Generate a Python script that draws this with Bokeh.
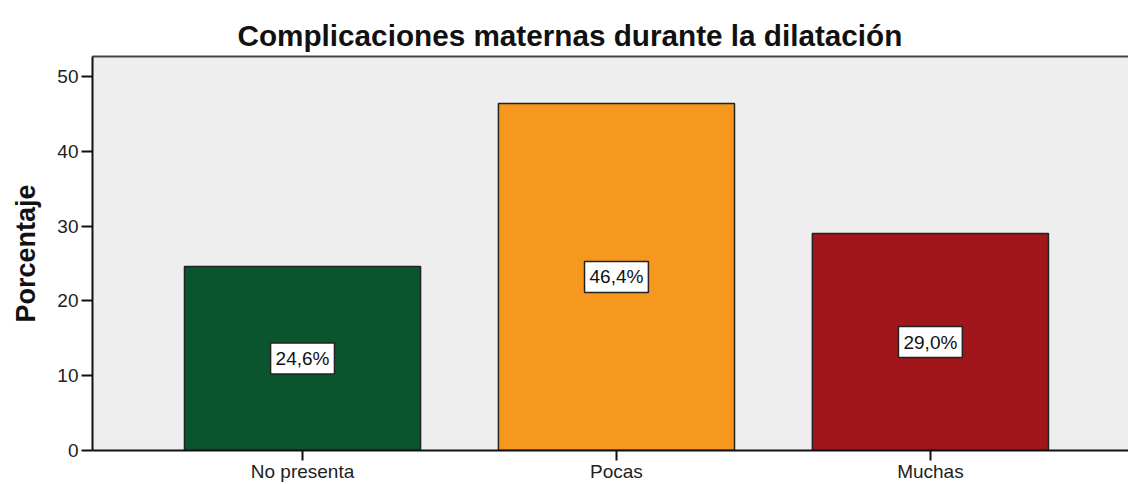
from bokeh.plotting import figure
from bokeh.models import (ColumnDataSource, Range1d, FixedTicker, LinearAxis,
                          Label, Title)
from bokeh.embed import file_html
from bokeh.resources import INLINE

categories = ["No presenta", "Pocas", "Muchas"]
values = [24.6, 46.4, 29.0]
colors = ["#0B552E", "#F7981E", "#A1161A"]
y_ticks = [0, 10, 20, 30, 40, 50]

positions = list(range(len(categories)))
labels = [f"{v:.1f}".replace(".", ",") + "%" for v in values]
mids = [v / 2 for v in values]

src = ColumnDataSource(dict(x=positions, top=values, color=colors))

FONT = "Liberation Sans"

p = figure(width=1128, height=484, output_backend="svg", toolbar_location=None,
           x_range=Range1d(-0.669, 2.631), y_range=Range1d(0, 52.67),
           min_border_left=92, min_border_right=0, min_border_top=56,
           min_border_bottom=34)
p.title = Title(text="Complicaciones maternas durante la dilatación",
                text_font=FONT, text_font_size="29.7px", text_font_style="bold",
                text_color="#111111", align="left", offset=145, standoff=9)

p.background_fill_color = "#EEEEEE"
p.border_fill_color = "white"
p.outline_line_color = None
p.grid.grid_line_color = None

p.vbar(x="x", top="top", width=0.752, bottom=0, fill_color="color",
       line_color="#222222", line_width=1.5, source=src)

for xpos, ymid, txt in zip(positions, mids, labels):
    p.add_layout(Label(x=xpos, y=ymid, text=txt,
                       text_align="center", text_baseline="middle",
                       text_font=FONT, text_font_size="19px", text_color="#111111",
                       background_fill_color="white", border_line_color="#222222",
                       border_line_width=1.5, padding=(5, 5)))

# y axis
ya = p.yaxis[0]
ya.ticker = FixedTicker(ticks=y_ticks)
ya.axis_label = "Porcentaje"
ya.axis_label_text_font = FONT
ya.axis_label_text_font_size = "27px"
ya.axis_label_text_font_style = "bold"
ya.axis_label_text_color = "#111111"
ya.axis_label_standoff = 13
ya.major_label_text_font = FONT
ya.major_label_text_font_size = "19px"
ya.major_label_text_color = "#222222"
ya.major_label_standoff = 3
ya.major_tick_out = 11
ya.major_tick_in = 0
ya.major_tick_line_width = 2
ya.major_tick_line_color = "#111111"
ya.minor_tick_line_color = None
ya.axis_line_width = 2
ya.axis_line_color = "#111111"

# x axis
xa = p.xaxis[0]
xa.ticker = FixedTicker(ticks=positions)
xa.major_label_overrides = {i: c for i, c in zip(positions, categories)}
xa.major_label_text_font = FONT
xa.major_label_text_font_size = "19px"
xa.major_label_text_color = "#222222"
xa.major_label_standoff = 0
xa.major_tick_out = 10
xa.major_tick_in = 0
xa.major_tick_line_width = 2
xa.major_tick_line_color = "#111111"
xa.minor_tick_line_color = None
xa.axis_line_width = 2
xa.axis_line_color = "#111111"

# top frame line
top_axis = LinearAxis(ticker=FixedTicker(ticks=[]), axis_line_color="#444444",
                      axis_line_width=2, major_tick_line_color=None,
                      minor_tick_line_color=None)
p.add_layout(top_axis, "above")

open("out.html", "w").write(file_html(p, INLINE))
